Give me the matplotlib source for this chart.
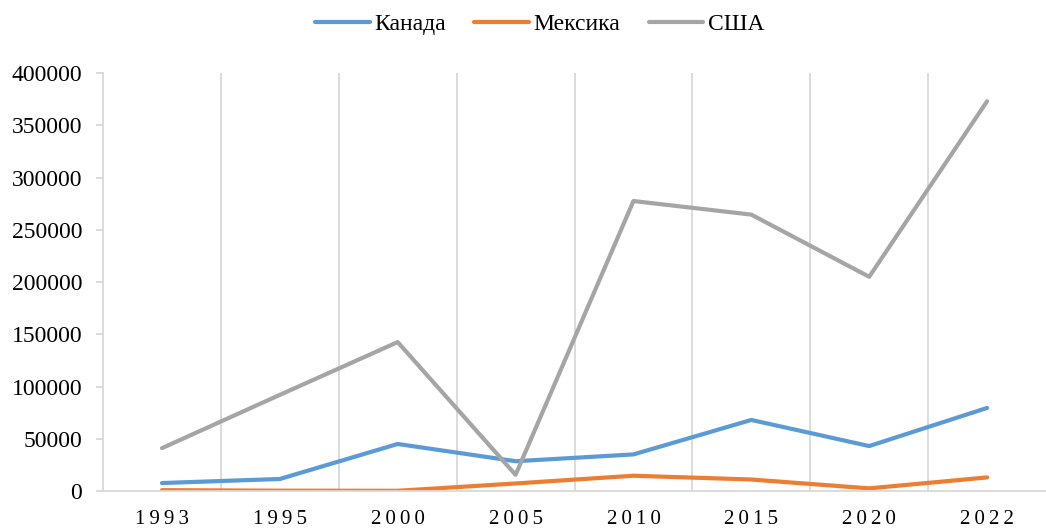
import matplotlib
matplotlib.use('Agg')
import matplotlib.pyplot as plt
import numpy as np

years = ['1993', '1995', '2000', '2005', '2010', '2015', '2020', '2022']
canada = [7600, 11500, 45000, 28500, 35000, 68000, 43000, 79500]
mexico = [800, 300, 200, 7200, 14600, 11000, 2500, 13000]
usa = [41000, 92000, 142500, 15500, 277500, 264500, 205000, 373000]

series_names = ['Канада', 'Мексика', 'США']
colors = ['#5B9BD5', '#ED7D31', '#A5A5A5']

plt.rcParams['font.family'] = ['Liberation Serif', 'DejaVu Serif']

fig = plt.figure(figsize=(10.46, 5.30), dpi=100)
ax = fig.add_axes([0.0985, 0.0736, 0.9015, 0.7886])

x = np.arange(len(years))
for vals, name, c in zip([canada, mexico, usa], series_names, colors):
    ax.plot(x, vals, color=c, linewidth=3, label=name, solid_capstyle='round')

ax.set_xlim(-0.5, len(years) - 0.5)
ax.set_ylim(0, 400000)
ax.set_yticks(np.arange(0, 400001, 50000))
ax.set_yticklabels([str(v) for v in range(0, 400001, 50000)], fontsize=17)

# вертикальные линии сетки между категориями
for b in np.arange(0.5, len(years) - 0.5, 1):
    ax.axvline(b, color='#D9D9D9', linewidth=1.3, zorder=0)

ax.set_xticks(x)
ax.set_xticklabels(['\u2009'.join(y) for y in years], fontsize=15)
ax.tick_params(axis='x', length=0, pad=14)
ax.tick_params(axis='y', length=5, color='#D9D9D9', width=1.3, pad=10)

for s in ['top', 'right']:
    ax.spines[s].set_visible(False)
for s in ['left', 'bottom']:
    ax.spines[s].set_color('#D9D9D9')
    ax.spines[s].set_linewidth(1.3)

fig.legend(loc='upper center', bbox_to_anchor=(0.516, 1.014), ncol=3, frameon=False,
           fontsize=17, handlelength=2.3, handletextpad=0.2, columnspacing=1.2)

fig.savefig('out.png', dpi=100)
